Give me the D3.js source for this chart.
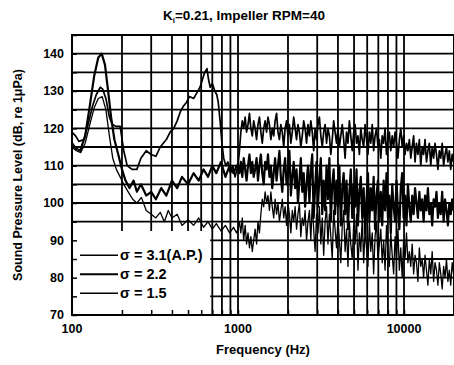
<!DOCTYPE html>
<html>
<head>
<meta charset="utf-8">
<script src="https://cdn.jsdelivr.net/npm/d3@7"></script>
<style>
  html, body { margin: 0; padding: 0; background: #fff; }
  svg { display: block; font-family: "Liberation Sans", Arial, sans-serif; font-weight: bold; }
</style>
</head>
<body>
<div id="chart"></div>
<script>
// tick labels
const xTicks = [100, 1000, 10000];
const yTicks = [70, 80, 90, 100, 110, 120, 130, 140];
const xGrid = [200, 300, 400, 500, 600, 700, 800, 900, 1000, 2000, 3000, 4000, 5000, 6000, 7000, 8000, 9000, 10000];
const yGrid = [75, 80, 85, 90, 95, 100, 105, 110, 115, 120, 125, 130, 135, 140];

const legendLabels = ['σ = 3.1(A.P.)', 'σ = 2.2', 'σ = 1.5'];

// low frequency part, [Hz, dB]
const low15 = [[100,119],[105,118],[110,116.5],[118,117],[125,121],[133,126],[140,129],[148,131],[153,130.5],[160,128],[168,123],[175,121],[185,120.5],[195,120.5],[205,114],[215,110],[230,109],[246,109],[260,112],[280,114],[300,113],[320,112.5],[340,115],[370,117],[390,119],[410,120],[430,122],[450,124.5],[470,126],[490,127],[510,128.5],[540,128],[565,129.5],[590,131],[610,133],[630,135],[650,136],[665,133],[680,131],[700,132],[725,130],[745,129],[760,127],[780,122],[800,116],[820,112],[845,110],[870,111],[900,108],[930,110],[960,107],[985,109]];
const low22 = [[100,116],[106,114.5],[112,114],[120,118],[128,126],[136,134],[144,139],[151,140],[158,137],[165,130],[172,123],[180,117],[190,113],[200,109],[210,106],[222,104],[235,106],[246,103],[260,105],[280,102],[300,103],[320,101],[345,104],[370,102],[400,106],[430,104],[460,107],[500,105],[540,108],[580,106],[620,109],[660,107],[700,110],[740,108],[790,111],[840,107],[890,110],[940,108],[980,110]];
const low31 = [[100,115],[106,114],[113,113.5],[120,116],[128,121],[136,125.5],[144,128],[152,128.5],[160,125],[168,118],[176,112],[185,109],[195,107],[205,105],[218,103],[232,101],[246,100],[262,101.5],[280,98],[300,97],[320,96],[340,97.5],[360,95],[380,98],[400,96],[430,97],[460,94],[500,95.5],[540,94],[580,96],[620,93.5],[660,95],[700,93],[740,94.5],[790,92.5],[840,94],[890,92],[940,93.5],[980,92]];

// high frequency part, shared frequencies (Hz)
const hfFreq = [
  1000,1020,1040,1061,1082,1104,1126,1149,1172,1195,
  1219,1243,1268,1294,1319,1346,1373,1400,1428,1457,
  1486,1516,1546,1577,1608,1641,1673,1707,1741,1776,
  1811,1848,1885,1922,1961,2000,2040,2081,2122,2165,
  2208,2252,2297,2343,2390,2438,2487,2536,2587,2639,
  2692,2745,2800,2856,2913,2972,3031,3092,3154,3217,
  3281,3347,3414,3482,3551,3623,3695,3769,3844,3921,
  4000,4080,4161,4245,4330,4416,4505,4595,4687,4780,
  4876,4973,5073,5174,5278,5383,5491,5601,5713,5827,
  5944,6062,6184,6307,6433,6562,6693,6827,6964,7103,
  7245,7390,7538,7689,7842,7999,8159,8322,8489,8658,
  8832,9008,9188,9372,9560,9751,9946,10145,10348,10555,
  10766,10981,11201,11425,11653,11886,12124,12367,12614,12866,
  13124,13386,13654,13927,14205,14490,14779,15075,15376,15684,
  15998,16318,16644,16977,17317,17663,18016,18377,18744,19119,
  19501,19891,20000];
const hf15 = [
  110,114,119,122,120,123,119,121,124,120,
  118,122,120,117,121,123,119,116,120,122,
  119,123,121,117,120,118,122,124,119,117,
  121,119,115,120,122,118,121,116,119,123,
  120,117,121,119,115,118,122,120,116,121,
  118,122,119,114,120,117,121,123,118,115,
  119,121,116,120,118,113,117,122,119,116,
  120,115,118,121,117,112,119,116,122,118,
  114,119,121,116,118,113,120,117,115,121,
  117,113,119,116,121,114,118,120,115,117,
  112,118,116,120,113,117,119,114,118,115,
  119,116,112,117,120,115,118,113,116,114,
  117,112,115,118,111,116,113,117,110,115,
  113,117,111,114,116,110,115,112,116,113,
  109,114,112,116,110,113,115,111,114,109,
  113,111,112];
const hf22 = [
  110,108,111,107,112,109,106,110,113,108,
  111,107,109,112,106,110,113,108,105,111,
  109,113,107,110,104,108,112,106,110,114,
  107,103,109,112,105,108,114,102,107,111,
  104,109,100,106,112,103,108,99,105,110,
  100,109,113,96,104,111,99,107,112,97,
  106,98,110,101,112,95,105,109,97,106,
  99,110,94,104,108,97,106,93,103,109,
  96,105,99,109,94,103,107,96,104,92,
  101,108,95,104,98,107,93,102,106,95,
  103,94,106,98,108,96,102,92,105,99,
  95,106,98,93,104,108,96,102,94,105,
  99,95,102,97,104,100,96,103,98,101,
  95,102,98,104,97,100,94,101,99,103,
  96,100,97,103,95,101,98,94,100,97,
  101,98,99];
const hf31 = [
  93,95,92,96,90,94,89,92,88,91,
  87,90,93,89,95,92,97,101,99,103,
  100,102,98,103,99,96,101,97,100,95,
  98,101,96,99,94,100,97,92,98,95,
  99,93,97,100,91,96,94,98,90,95,
  98,90,100,93,87,97,92,99,89,96,
  86,95,99,89,97,91,85,98,93,88,
  96,90,84,94,98,87,93,83,95,89,
  85,94,89,97,82,92,87,96,84,93,
  88,83,95,87,92,81,91,95,85,89,
  93,84,90,82,94,87,83,92,86,81,
  91,85,93,82,88,80,90,85,92,84,
  87,83,89,81,86,84,79,88,83,85,
  80,86,82,78,85,81,87,79,84,82,
  78,84,81,77,83,80,85,79,82,78,
  84,81,83];

const W = 454, H = 365;
const margin = { top: 35, right: 0, bottom: 50, left: 72 };
const innerW = W - margin.left - margin.right;
const innerH = H - margin.top - margin.bottom;

const svg = d3.select('#chart').append('svg').attr('width', W).attr('height', H);
const g = svg.append('g').attr('transform', `translate(${margin.left},${margin.top})`);

const x = d3.scaleLog().domain([100, 20000]).range([0, innerW]);
const y = d3.scaleLinear().domain([70, 145]).range([innerH, 0]);

// grid
g.append('g').selectAll('line').data(yGrid).join('line')
  .attr('x1', 0).attr('x2', innerW).attr('y1', d => y(d)).attr('y2', d => y(d))
  .attr('stroke', '#000').attr('stroke-width', 1.8);
g.append('g').selectAll('line').data(xGrid).join('line')
  .attr('x1', d => x(d)).attr('x2', d => x(d)).attr('y1', 0).attr('y2', innerH)
  .attr('stroke', '#000').attr('stroke-width', 1.8);

// legend box hides the grid in the lower left
g.append('rect').attr('x', 1).attr('y', y(92.5)).attr('width', x(680) - 1).attr('height', innerH - y(92.5))
  .attr('fill', '#fff');

// inside ticks
const yAx = g.append('g').call(d3.axisLeft(y).tickValues(d3.range(70, 146, 5)).tickSize(-5).tickFormat(''));
yAx.selectAll('line').attr('stroke-width', 1.5);
const xAx = g.append('g').attr('transform', `translate(0,${innerH})`)
  .call(d3.axisBottom(x).tickValues(xGrid).tickSize(-5).tickFormat(''));
xAx.selectAll('line').attr('stroke-width', 1.5);
g.selectAll('.domain').remove();

// curves
const series = [
  { low: low31, hf: hf31, w: 1.3 },
  { low: low22, hf: hf22, w: 2.2 },
  { low: low15, hf: hf15, w: 1.7 }
];
const line = d3.line().x(d => x(d[0])).y(d => y(d[1]));
g.append('g').selectAll('path').data(series).join('path')
  .attr('fill', 'none').attr('stroke', '#000').attr('stroke-width', d => d.w).attr('stroke-linejoin', 'round')
  .attr('d', d => line(d.low.concat(d3.zip(hfFreq, d.hf))));

// frame
g.append('rect').attr('width', innerW).attr('height', innerH).attr('fill', 'none')
  .attr('stroke', '#000').attr('stroke-width', 2);

// tick labels
g.append('g').selectAll('text').data(yTicks).join('text')
  .attr('x', -8).attr('y', d => y(d)).attr('dy', '0.35em').attr('text-anchor', 'end')
  .attr('font-size', 12.5).text(d => d);
g.append('g').selectAll('text').data(xTicks).join('text')
  .attr('x', d => x(d)).attr('y', innerH + 18).attr('text-anchor', 'middle')
  .attr('font-size', 12.5).text(d => d);

// legend
const leg = g.append('g').selectAll('g').data(legendLabels).join('g')
  .attr('transform', (d, i) => `translate(0,${y(86) + i * 19})`);
leg.append('line').attr('x1', 8).attr('x2', 46).attr('stroke', '#000')
  .attr('stroke-width', (d, i) => series[i].w);
leg.append('text').attr('x', 48).attr('dy', '0.35em').attr('font-size', 14.5).text(d => d);

// titles
const title = svg.append('text').attr('x', 244).attr('y', 20).attr('text-anchor', 'middle').attr('font-size', 13.5);
title.append('tspan').text('K');
title.append('tspan').attr('font-size', 8).attr('dy', 3).text('i');
title.append('tspan').attr('dy', -3).text('=0.21, Impeller RPM=40');

svg.append('text').attr('x', margin.left + innerW / 2).attr('y', 354).attr('text-anchor', 'middle')
  .attr('font-size', 13).text('Frequency (Hz)');
svg.append('text').attr('transform', `translate(22,${margin.top + innerH / 2}) rotate(-90)`)
  .attr('text-anchor', 'middle').attr('font-size', 12.5).text('Sound Pressure Level (dB, re 1μPa)');
</script>
</body>
</html>
